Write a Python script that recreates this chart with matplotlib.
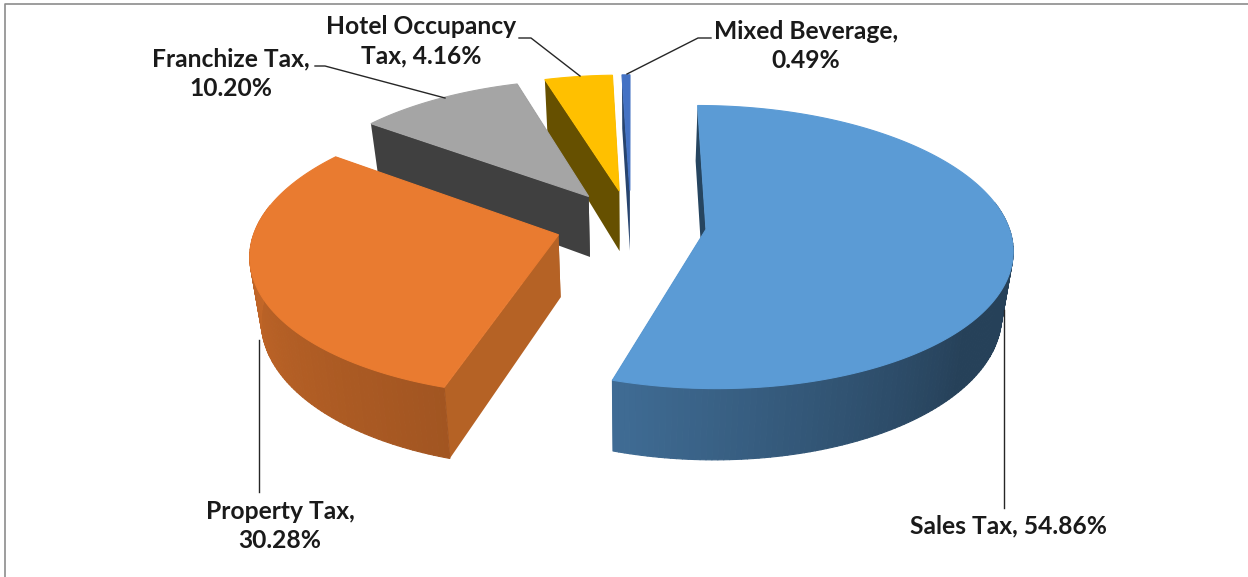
#!/usr/bin/env python3

import matplotlib
matplotlib.use('Agg')
import matplotlib.pyplot as plt
import numpy as np
from matplotlib.collections import PolyCollection
from matplotlib.colors import to_rgb

# Data
categories = ['Sales Tax', 'Property Tax', 'Franchize Tax', 'Hotel Occupancy Tax', 'Mixed Beverage']
shares = [54.86, 30.28, 10.20, 4.16, 0.49]

# Style
top_colors = ['#5b9bd5', '#e97b30', '#a5a5a5', '#ffc000', '#4472c4']
wall_colors = ['#264560', '#b56225', '#404040', '#665000', '#27446f']
label_texts = ['Sales Tax, 54.86%', 'Property Tax,\n30.28%', 'Franchize Tax,\n10.20%',
               'Hotel Occupancy\nTax, 4.16%', 'Mixed Beverage,\n0.49%']
label_pos = [(1008, 526), (280, 526), (231, 74), (421, 41), (806, 46)]
leaders = [[(1004, 310), (1004, 508)],
           [(259, 340), (259, 492)],
           [(315, 66), (325, 66), (445, 98)],
           [(519, 38), (531, 38), (580, 76)],
           [(711, 38), (698, 38), (627, 74)]]

# Projection
CX, CY = 631, 224
RX, RY = 302, 138
PERSP = 0.125
SHRINK = 0.03
HEIGHT = 62
EXPLODE = 0.25
START = 0


def project(u, v, down=0.0):
    s = 1.0 / (1.0 - PERSP * v)
    return CX + RX * u * s * (1 - SHRINK * down), CY + RY * v * s + HEIGHT * s * down


def rim_factor(theta):
    return np.interp(theta % 360, [90, 130, 195, 270], [0.42, 0.42, 0.69, 0.84])


def draw_slice(ax, a0, a1, top, wall, z):
    mid = np.radians((a0 + a1) / 2)
    ou, ov = EXPLODE * np.sin(mid), -EXPLODE * np.cos(mid)
    angles = np.linspace(a0, a1, max(int(a1 - a0), 4))
    us = ou + np.sin(np.radians(angles))
    vs = ov - np.cos(np.radians(angles))

    # Flat cut walls
    for ue, ve in [(us[0], vs[0]), (us[-1], vs[-1])]:
        corners = [project(ou, ov), project(ue, ve), project(ue, ve, 1), project(ou, ov, 1)]
        ax.fill(*zip(*corners), color=wall, lw=0, zorder=z)

    # Curved outer wall, front part only, one quad per step so it can shade
    quads = []
    colors = []
    base = np.array(to_rgb(top))
    for i in range(len(angles) - 1):
        if not 78 < angles[i] % 360 < 282:
            continue
        quads.append([project(us[i], vs[i]), project(us[i + 1], vs[i + 1]),
                      project(us[i + 1], vs[i + 1], 1), project(us[i], vs[i], 1)])
        colors.append(base * rim_factor(angles[i]))
    if quads:
        ax.add_collection(PolyCollection(quads, facecolors=colors, edgecolors=colors, linewidths=0.8, zorder=z))

    # Top face, thin same colour edge hides the rim seam
    outline = [project(ou, ov)] + [project(u, v) for u, v in zip(us, vs)]
    ax.fill(*zip(*outline), facecolor=top, edgecolor=top, lw=0.8, zorder=z + 0.5)


def main():
    fig = plt.figure(figsize=(12.48, 5.77), dpi=100)
    ax = fig.add_axes([0, 0, 1, 1])
    ax.set_xlim(0, 1248)
    ax.set_ylim(577, 0)
    ax.axis('off')

    # Chart frame
    ax.plot([5, 5, 1248], [577, 4, 4], color='#8c8c8c', lw=1.2, zorder=1)

    spans = np.array(shares) / sum(shares) * 360
    starts = START + np.concatenate([[0], np.cumsum(spans)[:-1]])

    # Back slices first
    for i in [4, 3, 2, 1, 0]:
        draw_slice(ax, starts[i], starts[i] + spans[i], top_colors[i], wall_colors[i], 10 + (4 - i))

    for pts in leaders:
        xs, ys = zip(*pts)
        ax.plot(xs, ys, color='#262626', lw=1.0, zorder=20)

    for text, (x, y) in zip(label_texts, label_pos):
        ax.text(x, y, text, ha='center', va='center', family='Lato', weight='bold',
                fontsize=17.7, color='#1a1a1a', linespacing=1.35, zorder=21)

    fig.savefig('out.png', dpi=100, facecolor='white')


if __name__ == "__main__":
    main()
